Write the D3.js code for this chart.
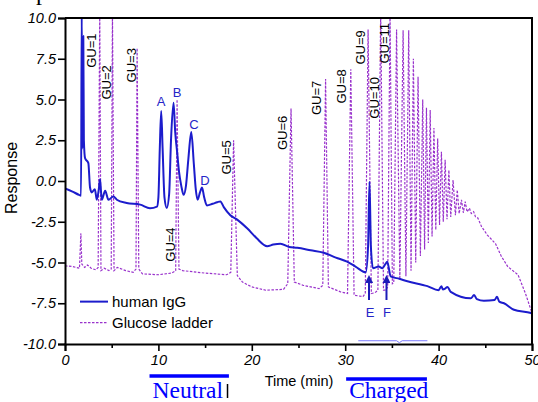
<!DOCTYPE html>
<html>
<head>
<meta charset="utf-8">
<script src="https://cdn.jsdelivr.net/npm/d3@7"></script>
<style>
  body { margin: 0; background: #fff; }
  svg { display: block; font-family: "Liberation Sans", Arial, sans-serif; }
</style>
</head>
<body>
<div id="chart"></div>
<script>
// Traces: [time (min), response]
const iggTrace = [
    [0, -0.45], [0.8, -0.65], [1.5, -0.85], [1.72, -0.9], [1.79, 10.5], [1.86, 2.0],
    [1.93, 4.0], [1.96, 8.9], [2.02, 2.5], [2.15, 1.4], [2.5, 1.1], [2.68, -0.4],
    [2.86, -0.7], [3.2, -0.5], [3.4, -1.15], [3.62, -0.5], [3.75, 0.1], [3.85, -0.6],
    [3.94, -1.15], [4.3, -0.6], [4.65, -1.15], [5.18, -0.95], [5.55, -1.15], [6.6, -1.35],
    [8.05, -1.45], [9.1, -1.67], [9.85, -1.57], [10.0, -1.0], [10.15, 2.0], [10.3, 4.3],
    [10.45, 2.0], [10.65, -1.0], [10.9, -1.65], [11.15, -0.8], [11.35, 2.5], [11.62, 4.8],
    [11.8, 3.0], [12.0, 1.8], [12.2, 0.6], [12.45, -0.3], [12.7, -0.85], [12.95, -0.3],
    [13.2, 1.3], [13.52, 3.0], [13.8, 1.0], [14.0, -0.5], [14.2, -1.15], [14.45, -0.7],
    [14.67, -0.4], [14.9, -1.0], [15.2, -1.5], [15.8, -1.4], [16.3, -1.3], [16.63, -1.25],
    [17.0, -1.6], [17.7, -2.1], [18.5, -2.4], [19.5, -2.9], [20.5, -3.5], [21.64, -4.0],
    [22.3, -3.9], [23.07, -3.85], [24.0, -4.05], [24.86, -4.1], [26.3, -4.25], [27.7, -4.4],
    [29.0, -4.7], [30.2, -4.95], [31.1, -5.25], [32.2, -5.6], [32.45, -4.0], [32.6, -0.05],
    [32.75, -4.0], [32.97, -5.35], [33.58, -5.25], [33.98, -5.35], [34.3, -5.1], [34.5, -4.95],
    [34.87, -5.85], [35.8, -6.0], [36.66, -6.15], [38.8, -6.45], [40.0, -6.7], [40.3, -6.45],
    [40.45, -6.65], [40.7, -6.6], [40.95, -6.5], [41.3, -6.8], [43.45, -7.2], [43.8, -7.0],
    [44.1, -7.25], [44.85, -7.35], [46.0, -7.3], [46.25, -7.1], [46.5, -7.4], [47.0, -7.5],
    [48.07, -7.9], [49.9, -8.1], [50, -8.15]
];

const ladderTrace = [
    [0, -5.2], [0.8, -5.25], [1.55, -5.35], [1.7, -3.2], [1.8, -5.1], [2.1, -5.3],
    [2.4, -5.15], [2.8, -5.35], [3.3, -5.45], [3.55, -5.3], [3.72, 10.5], [3.85, -5.5],
    [4.2, -5.35], [4.7, -5.5], [4.95, -5.4], [5.08, 10.5], [5.25, -5.5], [5.6, -5.3],
    [6.5, -5.5], [7.3, -5.6], [7.6, -5.4], [7.72, 8.15], [7.9, -5.4], [8.3, -5.7],
    [10, -5.75], [11.4, -5.65], [11.85, -5.5], [12.0, 5.0], [12.2, -5.4], [12.6, -5.5],
    [15, -5.65], [17.3, -5.75], [17.75, -5.6], [18.05, 2.5], [18.45, -5.8], [19.0, -6.2],
    [20.0, -6.5], [21.5, -6.7], [23.4, -6.65], [23.85, -6.3], [24.2, 4.45], [24.55, -6.2],
    [25.5, -6.4], [27.2, -6.6], [27.6, -6.4], [27.9, 6.25], [28.2, -6.5], [29.5, -6.8],
    [30.25, -6.9], [30.6, 6.85], [30.95, -7.0], [31.9, -7.1], [32.15, -6.9], [32.45, 9.3],
    [32.8, -6.9], [33.2, -6.85], [33.5, -6.7], [33.8, 10.5], [34.1, -6.7], [34.35, -6.7],
    [34.55, -6.5], [34.8, 10.5], [35.05, -6.3], [35.2, -6.25], [35.5, 9.3], [35.85, -6.05],
    [36.2, 9.25], [36.5, -5.85], [36.8, 9.25], [37.05, -5.5], [37.3, 7.5], [37.55, -5.0],
    [37.8, 6.4], [38.05, -4.6], [38.3, 5.0], [38.5, -4.2], [38.7, 4.5], [38.9, -3.8],
    [39.1, 4.35], [39.3, -3.4], [39.5, 3.25], [39.7, -3.0], [39.9, 2.6], [40.1, -2.7],
    [40.3, 1.8], [40.5, -2.5], [40.7, 1.3], [40.9, -2.35], [41.1, 0.67], [41.3, -2.2],
    [41.55, 0.06], [41.8, -2.1], [42.0, -0.55], [42.2, -2.0], [42.45, -1.16], [42.65, -1.95],
    [42.85, -1.27], [43.05, -1.9], [43.3, -1.67], [43.5, -2.0], [43.75, -1.88], [43.95, -2.2],
    [44.2, -2.27], [44.6, -2.8], [45.2, -3.3], [46.1, -3.85], [46.7, -4.6], [47.4, -5.25],
    [48.5, -5.75], [49.3, -6.9], [50, -8.1]
];

// GU peak labels: text, label time, label response
const guNames = ["GU=1", "GU=2", "GU=3", "GU=4", "GU=5", "GU=6", "GU=7", "GU=8", "GU=9", "GU=10", "GU=11"];
const guTimes = [2.85, 4.45, 7.1, 11.25, 17.3, 23.25, 26.95, 29.6, 31.65, 33.1, 34.2];
const guResp = [8.0, 6.05, 7.1, -3.9, 1.45, 2.95, 5.1, 5.8, 8.2, 5.1, 8.45];

// Glycan peak letters
const peakNames = ["A", "B", "C", "D", "E", "F"];
const peakTimes = [10.28, 11.99, 13.81, 14.99, 32.66, 34.48];
const peakResp = [4.9, 5.46, 3.5, 0.06, -8.04, -8.04];

// Arrows under E and F
const arrowTimes = [32.55, 34.42];

// Axis ticks
const yTicks = [10, 7.5, 5, 2.5, 0, -2.5, -5, -7.5, -10];
const xTicks = [0, 10, 20, 30, 40, 50];
const xMinorTicks = [5, 15, 25, 35, 45];

// Neutral / Charged regions (min)
const regionNames = ["Neutral", "Charged"];
const regionStart = [9.05, 30.1];
const regionEnd = [17.55, 38.75];

const margin = { top: 18, right: 6, bottom: 58, left: 65 };
const width = 538 - margin.left - margin.right;
const height = 402 - margin.top - margin.bottom;

const blue = "#1c1ccc";
const purple = "#9932cc";
const serif = "'Liberation Serif', 'Times New Roman', serif";

const svgContainer = d3.select("#chart")
    .append("svg")
    .attr("width", 538)
    .attr("height", 402);

const svg = svgContainer.append("g")
    .attr("transform", `translate(${margin.left},${margin.top})`);

const x = d3.scaleLinear().domain([0, 50]).range([0, width]);
const y = d3.scaleLinear().domain([-10, 10]).range([height, 0]);

svg.append("clipPath")
    .attr("id", "plot-clip")
    .append("rect")
    .attr("width", width)
    .attr("height", height);

// Glucose ladder (dashed)
svg.append("path")
    .datum(ladderTrace)
    .attr("clip-path", "url(#plot-clip)")
    .attr("fill", "none")
    .attr("stroke", purple)
    .attr("stroke-width", 1.2)
    .attr("stroke-dasharray", "2.5,1.5")
    .attr("d", d3.line().x(d => x(d[0])).y(d => y(d[1])));

// Human IgG
svg.append("path")
    .datum(iggTrace)
    .attr("clip-path", "url(#plot-clip)")
    .attr("fill", "none")
    .attr("stroke", blue)
    .attr("stroke-width", 2)
    .attr("stroke-linejoin", "round")
    .attr("d", d3.line().x(d => x(d[0])).y(d => y(d[1])).curve(d3.curveMonotoneX));

// Y axis
const fmt = v => d3.format(".1f")(v).replace("\u2212", "-");
svg.append("g")
    .call(d3.axisLeft(y).tickValues(yTicks).tickSize(7).tickPadding(2).tickFormat(fmt));

// X axis with minor ticks
svg.append("g")
    .attr("transform", `translate(0,${height})`)
    .call(d3.axisBottom(x).tickValues(xMinorTicks).tickSize(4).tickFormat(""))
    .select(".domain").remove();

svg.append("g")
    .attr("transform", `translate(0,${height})`)
    .call(d3.axisBottom(x).tickValues(xTicks).tickSize(7).tickPadding(4));

svg.selectAll(".tick text")
    .style("font-family", "'Liberation Sans', Arial, sans-serif")
    .style("font-style", "italic")
    .style("font-size", "14.5px")
    .attr("fill", "#000");
svg.selectAll(".tick line").attr("stroke-width", 1.6);
svg.selectAll(".domain").attr("stroke-width", 2);

// Frame: top and right
svg.append("path")
    .attr("d", `M0,0H${width}V${height}`)
    .attr("fill", "none")
    .attr("stroke", "#000")
    .attr("stroke-width", 2);

// Axis titles
svg.append("text")
    .attr("transform", `translate(${-48},${height / 2 - 3}) rotate(-90)`)
    .attr("text-anchor", "middle")
    .style("font-size", "16px")
    .text("Response");

svg.append("text")
    .attr("x", 234)
    .attr("y", height + 42)
    .attr("text-anchor", "middle")
    .style("font-size", "14.5px")
    .text("Time (min)");

// GU labels
svg.selectAll(".gu-label")
    .data(guNames)
    .enter()
    .append("text")
    .attr("class", "gu-label")
    .attr("transform", (d, i) => `translate(${x(guTimes[i])},${y(guResp[i])}) rotate(-90)`)
    .attr("text-anchor", "middle")
    .attr("dy", "0.35em")
    .style("font-size", "13px")
    .text(d => d);

// Peak letters
svg.selectAll(".peak-label")
    .data(peakNames)
    .enter()
    .append("text")
    .attr("class", "peak-label")
    .attr("x", (d, i) => x(peakTimes[i]))
    .attr("y", (d, i) => y(peakResp[i]))
    .attr("dy", "0.35em")
    .attr("text-anchor", "middle")
    .style("font-size", "13px")
    .attr("fill", "#2525c8")
    .text(d => d);

// Arrows for E and F
svg.append("defs").append("marker")
    .attr("id", "arrow")
    .attr("viewBox", "0 0 10 10")
    .attr("refX", 5).attr("refY", 10)
    .attr("markerWidth", 4).attr("markerHeight", 5)
    .attr("orient", "0")
    .append("path")
    .attr("d", "M0,10L5,0L10,10Z")
    .attr("fill", "#1c1cb8");

svg.selectAll(".arrow")
    .data(arrowTimes)
    .enter()
    .append("line")
    .attr("x1", d => x(d)).attr("x2", d => x(d))
    .attr("y1", y(-7.3)).attr("y2", y(-6.25))
    .attr("stroke", "#1c1cb8")
    .attr("stroke-width", 2)
    .attr("marker-end", "url(#arrow)");

// Thin light-blue mark near the bottom
svg.append("path")
    .attr("d", `M${x(31.4)},${y(-9.8)}H${x(35.5)}L${x(35.8)},${y(-9.92)}L${x(36.1)},${y(-9.8)}H${x(38.8)}`)
    .attr("fill", "none")
    .attr("stroke", "#7a7aff")
    .attr("stroke-width", 1);

// Legend
const legend = svg.append("g").attr("transform", `translate(15,${y(-7.4)})`);
legend.append("line")
    .attr("x1", 0).attr("x2", 28)
    .attr("stroke", blue).attr("stroke-width", 2);
legend.append("text")
    .attr("x", 32).attr("dy", "0.35em")
    .style("font-size", "15px")
    .text("human IgG");
legend.append("line")
    .attr("x1", 0).attr("x2", 28)
    .attr("y1", 21).attr("y2", 21)
    .attr("stroke", purple).attr("stroke-width", 1.2)
    .attr("stroke-dasharray", "2.5,1.5");
legend.append("text")
    .attr("x", 32).attr("y", 21).attr("dy", "0.35em")
    .style("font-size", "15px")
    .text("Glucose ladder");

// Region bars and labels below the axis
svg.selectAll(".region-bar")
    .data(regionNames)
    .enter()
    .append("line")
    .attr("x1", (d, i) => x(regionStart[i]))
    .attr("x2", (d, i) => x(regionEnd[i]))
    .attr("y1", (d, i) => height + 32 + i * 3)
    .attr("y2", (d, i) => height + 32 + i * 3)
    .attr("stroke", "#0000ff")
    .attr("stroke-width", 3.5);

svg.selectAll(".region-label")
    .data(regionNames)
    .enter()
    .append("text")
    .attr("x", (d, i) => x(regionStart[i]) + 3)
    .attr("y", height + 54)
    .style("font-family", serif)
    .style("font-size", "23.5px")
    .attr("fill", "#0000ff")
    .text(d => d);

// Black cursor mark after "Neutral"
svg.append("line")
    .attr("x1", x(17.4)).attr("x2", x(17.4))
    .attr("y1", height + 40).attr("y2", height + 54)
    .attr("stroke", "#000")
    .attr("stroke-width", 1.5);

// Cropped glyph at the top edge
svgContainer.append("text")
    .attr("x", 36)
    .attr("y", 0)
    .style("font-family", serif)
    .style("font-size", "24px")
    .text("p");
</script>
</body>
</html>
